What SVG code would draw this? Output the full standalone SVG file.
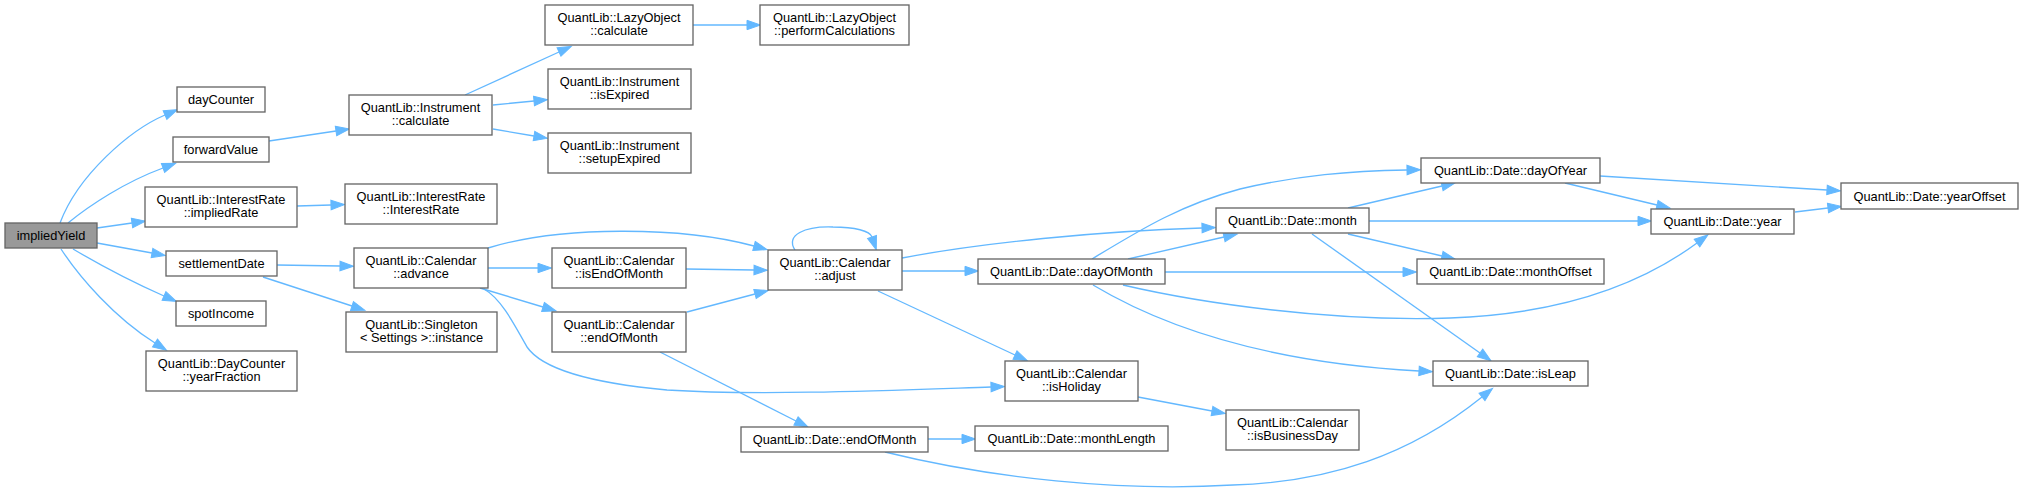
<svg xmlns="http://www.w3.org/2000/svg" width="2024" height="493" viewBox="0 0 2024 493">
<style>
.n rect{fill:#fff;stroke:#666;stroke-width:1.33}
.root rect{fill:#999}
.n text{font-family:"Liberation Sans",Arial,sans-serif;font-size:12.8px;fill:#000;text-anchor:middle}
.e path{fill:none;stroke:#63b8ff;stroke-width:1.33;marker-end:url(#arr)}
</style>
<defs>
<marker id="arr" markerUnits="userSpaceOnUse" markerWidth="16" markerHeight="12" refX="0" refY="5" orient="auto" overflow="visible">
<path d="M0,0.3 L13.5,5 L0,9.7 z" fill="#63b8ff" stroke="#63b8ff" stroke-width="1"/>
</marker>
</defs>
<rect x="0" y="0" width="2024" height="493" fill="#fff"/>
<g id="edges" class="e">
<path d="M60,223 C78,175 130,130 165,115"/>
<path d="M68,223 C90,205 125,182 163,168"/>
<path d="M97,228 L132,223"/>
<path d="M97,243 L152,253"/>
<path d="M73,249 C95,262 130,281 164,296"/>
<path d="M61,249 C80,278 115,318 155,343"/>
<path d="M269,141 L336,131"/>
<path d="M465,95 L559,52"/>
<path d="M493,105 L534,101"/>
<path d="M493,129 L534,136"/>
<path d="M693,25 L747,25"/>
<path d="M297,206 L331,205"/>
<path d="M277,265 L340,266"/>
<path d="M263,277 L352,306"/>
<path d="M488,248 C560,226 680,226 754,246"/>
<path d="M488,268 L538,268"/>
<path d="M480,288 L543,307"/>
<path d="M484,289 C500,298 512,320 527,347 C540,366 580,382 667,390 C760,396 900,390 991,387"/>
<path d="M686,269 L754,270"/>
<path d="M687,312 L755,294"/>
<path d="M660,352 L796,421"/>
<path d="M795,250 C785,235 805,226 833,227 C855,227 870,231 872,237"/>
<path d="M902,258 C980,243 1100,231 1202,228"/>
<path d="M902,271 L965,271"/>
<path d="M878,291 L1015,355"/>
<path d="M928,439 L962,439"/>
<path d="M885,452 C990,478 1120,492 1233,485 C1330,482 1410,455 1482,397"/>
<path d="M1138,397 L1212,411"/>
<path d="M1092,259 C1140,230 1180,205 1240,189 C1300,175 1350,171 1407,170"/>
<path d="M1128,259 L1224,237"/>
<path d="M1165,272 L1403,272"/>
<path d="M1123,285 C1200,303 1330,322 1450,318 C1560,314 1640,285 1697,243"/>
<path d="M1093,285 C1160,325 1260,362 1419,371"/>
<path d="M1348,208 L1442,186"/>
<path d="M1369,221 L1638,221"/>
<path d="M1348,234 L1442,256"/>
<path d="M1312,234 L1480,353"/>
<path d="M1565,183 L1657,205"/>
<path d="M1600,176 L1827,190"/>
<path d="M1795,212 L1828,208"/>
</g>
<g id="impliedYield" class="n root"><rect x="5" y="223" width="92" height="25"/><text x="51" y="240">impliedYield</text></g>
<g id="dayCounter" class="n"><rect x="177" y="87" width="88" height="25"/><text x="221" y="104">dayCounter</text></g>
<g id="forwardValue" class="n"><rect x="173" y="137" width="96" height="25"/><text x="221" y="154">forwardValue</text></g>
<g id="impliedRate" class="n"><rect x="145" y="187" width="152" height="40"/><text x="221" y="203.5">QuantLib::InterestRate</text><text x="221" y="217">::impliedRate</text></g>
<g id="settlementDate" class="n"><rect x="166" y="251" width="111" height="25"/><text x="221.5" y="268">settlementDate</text></g>
<g id="spotIncome" class="n"><rect x="176" y="301" width="90" height="25"/><text x="221" y="318">spotIncome</text></g>
<g id="yearFraction" class="n"><rect x="146" y="351" width="151" height="40"/><text x="221.5" y="367.5">QuantLib::DayCounter</text><text x="221.5" y="381">::yearFraction</text></g>
<g id="instrCalculate" class="n"><rect x="349" y="95" width="143" height="40"/><text x="420.5" y="111.5">QuantLib::Instrument</text><text x="420.5" y="125">::calculate</text></g>
<g id="interestRate" class="n"><rect x="345" y="184" width="152" height="40"/><text x="421" y="200.5">QuantLib::InterestRate</text><text x="421" y="214">::InterestRate</text></g>
<g id="advance" class="n"><rect x="354" y="248" width="134" height="40"/><text x="421" y="264.5">QuantLib::Calendar</text><text x="421" y="278">::advance</text></g>
<g id="singletonInstance" class="n"><rect x="346" y="312" width="151" height="40"/><text x="421.5" y="328.5">QuantLib::Singleton</text><text x="421.5" y="342">&lt; Settings &gt;::instance</text></g>
<g id="lazyCalculate" class="n"><rect x="545" y="5" width="148" height="40"/><text x="619" y="21.5">QuantLib::LazyObject</text><text x="619" y="35">::calculate</text></g>
<g id="performCalculations" class="n"><rect x="760" y="5" width="149" height="40"/><text x="834.5" y="21.5">QuantLib::LazyObject</text><text x="834.5" y="35">::performCalculations</text></g>
<g id="isExpired" class="n"><rect x="548" y="69" width="143" height="40"/><text x="619.5" y="85.5">QuantLib::Instrument</text><text x="619.5" y="99">::isExpired</text></g>
<g id="setupExpired" class="n"><rect x="548" y="133" width="143" height="40"/><text x="619.5" y="149.5">QuantLib::Instrument</text><text x="619.5" y="163">::setupExpired</text></g>
<g id="isEndOfMonth" class="n"><rect x="552" y="248" width="134" height="40"/><text x="619" y="264.5">QuantLib::Calendar</text><text x="619" y="278">::isEndOfMonth</text></g>
<g id="calEndOfMonth" class="n"><rect x="552" y="312" width="134" height="40"/><text x="619" y="328.5">QuantLib::Calendar</text><text x="619" y="342">::endOfMonth</text></g>
<g id="adjust" class="n"><rect x="768" y="250" width="134" height="40"/><text x="835" y="266.5">QuantLib::Calendar</text><text x="835" y="280">::adjust</text></g>
<g id="dateEndOfMonth" class="n"><rect x="741" y="427" width="187" height="25"/><text x="834.5" y="444">QuantLib::Date::endOfMonth</text></g>
<g id="dayOfMonth" class="n"><rect x="978" y="259" width="187" height="25"/><text x="1071.5" y="276">QuantLib::Date::dayOfMonth</text></g>
<g id="monthLength" class="n"><rect x="975" y="426" width="193" height="25"/><text x="1071.5" y="443">QuantLib::Date::monthLength</text></g>
<g id="isHoliday" class="n"><rect x="1005" y="361" width="133" height="40"/><text x="1071.5" y="377.5">QuantLib::Calendar</text><text x="1071.5" y="391">::isHoliday</text></g>
<g id="isBusinessDay" class="n"><rect x="1226" y="410" width="133" height="40"/><text x="1292.5" y="426.5">QuantLib::Calendar</text><text x="1292.5" y="440">::isBusinessDay</text></g>
<g id="month" class="n"><rect x="1216" y="208" width="153" height="25"/><text x="1292.5" y="225">QuantLib::Date::month</text></g>
<g id="dayOfYear" class="n"><rect x="1421" y="158" width="179" height="25"/><text x="1510.5" y="175">QuantLib::Date::dayOfYear</text></g>
<g id="monthOffset" class="n"><rect x="1417" y="259" width="187" height="25"/><text x="1510.5" y="276">QuantLib::Date::monthOffset</text></g>
<g id="isLeap" class="n"><rect x="1433" y="361" width="155" height="25"/><text x="1510.5" y="378">QuantLib::Date::isLeap</text></g>
<g id="year" class="n"><rect x="1651" y="209" width="143" height="25"/><text x="1722.5" y="226">QuantLib::Date::year</text></g>
<g id="yearOffset" class="n"><rect x="1841" y="183" width="177" height="26"/><text x="1929.5" y="200.5">QuantLib::Date::yearOffset</text></g>
</svg>
